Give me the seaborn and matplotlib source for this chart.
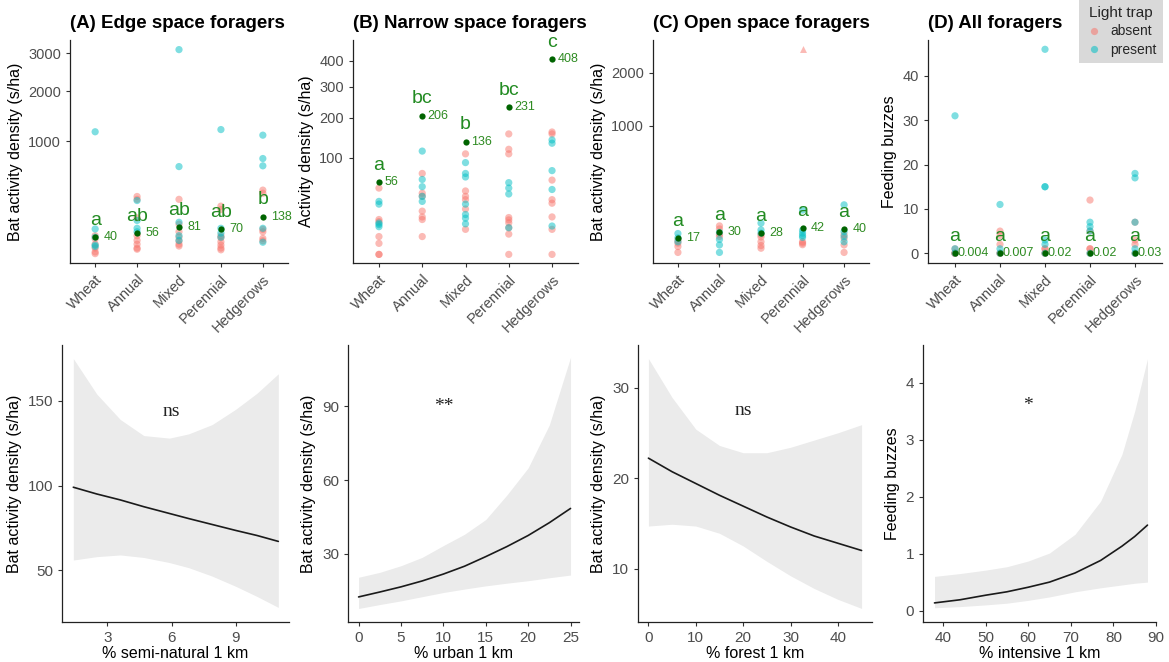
import numpy as np
import pandas as pd
import matplotlib
matplotlib.use("Agg")
import matplotlib.pyplot as plt
import seaborn as sns
from matplotlib.lines import Line2D

habitats = ["Wheat", "Annual", "Mixed", "Perennial", "Hedgerows"]
trap_colors = {"absent": "#F8766D", "present": "#00BFC4"}

# --- top row: site values per habitat (absent / present light trap) ---
edge_absent = [[45, 35, 20, 12, 6, 4], [290, 265, 130, 45, 30, 20, 12, 10],
               [265, 95, 60, 40, 28, 16, 20], [210, 185, 45, 38, 26, 18, 12, 9],
               [350, 320, 70, 60, 36, 29]]
edge_present = [[1160, 72, 40, 18, 15], [255, 115, 75, 60], [3100, 620, 105, 45, 30],
                [1200, 75, 55, 40], [1100, 730, 630, 75, 25]]
edge_means = [40, 56, 81, 70, 138]
edge_letters = ["a", "ab", "ab", "ab", "b"]

narrow_absent = [[47, 13, 11.5, 3.4, 1.3, 0, 0], [70, 40, 36, 20, 15, 13, 3.4],
                 [108, 43, 36, 32, 22, 6.7], [155, 118, 108, 14.5, 12.7, 10.7, 7.6, 4.4, 0],
                 [160, 155, 59, 32, 28, 15, 6.7, 0]]
narrow_present = [[30, 27, 10.5, 9.5, 8.2], [114, 60, 49, 36, 30], [90, 70, 64, 27, 17, 14, 10],
                  [55, 47, 39, 7.6], [140, 132, 75, 45, 8.6]]
narrow_means = [56, 206, 136, 231, 408]
narrow_letters = ["a", "bc", "b", "bc", "c"]

open_absent = [[12, 8, 4, 0.3], [50, 40, 25, 20], [24, 19, 10, 5, 2.5],
               [10, 8, 6], [24, 16, 5.7, 0.3]]
open_present = [[27, 17, 10], [30, 14, 5.7, 0.3], [60, 37, 28],
                [120, 36, 28, 22, 18], [150, 32, 20, 10]]
open_outlier = 2550  # Perennial, absent
open_means = [17, 30, 28, 42, 40]
open_letters = ["a", "a", "a", "a", "a"]

all_absent = [[1, 0, 0, 0, 0], [5, 4, 2, 0, 0], [1, 1, 0, 0],
              [12, 5, 1, 1, 0], [7, 3, 2, 0]]
all_present = [[31, 1, 0], [11, 1, 0], [46, 15, 15, 3, 2, 0],
               [7, 6, 5, 0], [18, 17, 7, 1, 0]]
all_means = [0.004, 0.007, 0.02, 0.02, 0.03]
all_letters = ["a", "a", "a", "a", "a"]

# --- bottom row: model predictions with confidence band ---
semi_x = [1.4, 2.5, 3.6, 4.7, 5.9, 6.8, 7.9, 9.0, 10.0, 11.0]
semi_fit = [99, 95, 91.5, 87.5, 83.5, 80.5, 77, 73.5, 70.5, 67]
semi_hi = [175, 154, 139, 129.5, 128, 130.5, 136, 145, 154.5, 166]
semi_lo = [56, 58, 59, 57.5, 54.5, 51.5, 46.5, 40.5, 34.5, 28]

urban_x = [0, 2.5, 5, 7.5, 10, 12.5, 15, 17.5, 20, 22.5, 25]
urban_fit = [12.5, 14.5, 16.6, 19.0, 21.8, 25.0, 28.9, 33.0, 37.5, 42.7, 48.5]
urban_hi = [20.5, 22.5, 25.2, 28.6, 33.4, 38, 44, 54, 65, 82.5, 110]
urban_lo = [7.8, 9.4, 10.9, 12.6, 14.3, 15.7, 17.0, 18.1, 19.1, 20.3, 21.4]

forest_x = [0, 5, 10, 15, 20, 25, 30, 35, 40, 45]
forest_fit = [22.2, 20.7, 19.4, 18.1, 16.9, 15.7, 14.6, 13.6, 12.8, 12.0]
forest_hi = [33.2, 28.9, 25.4, 23.6, 22.8, 22.8, 23.4, 24.2, 25.0, 25.9]
forest_lo = [14.7, 14.9, 14.7, 13.9, 12.5, 10.8, 9.2, 7.8, 6.6, 5.6]

intens_x = [38, 44, 50, 55, 60, 65, 71, 77, 82, 85, 88]
intens_fit = [0.135, 0.19, 0.27, 0.33, 0.41, 0.5, 0.66, 0.88, 1.13, 1.3, 1.5]
intens_hi = [0.6, 0.65, 0.71, 0.77, 0.87, 1.01, 1.34, 1.92, 2.74, 3.5, 4.42]
intens_lo = [0.05, 0.07, 0.1, 0.13, 0.18, 0.24, 0.33, 0.4, 0.45, 0.48, 0.5]


def to_frame(absent, present):
    rows = []
    for h, a, p in zip(habitats, absent, present):
        rows += [(h, v, "absent") for v in a]
        rows += [(h, v, "present") for v in p]
    return pd.DataFrame(rows, columns=["habitat", "value", "trap"])


def sqrt_fwd(v):
    return np.sign(v) * np.sqrt(np.abs(v))


def sqrt_inv(v):
    return np.sign(v) * v ** 2


sns.set_style("ticks")
plt.rcParams["font.family"] = ["Liberation Sans", "DejaVu Sans"]
plt.rcParams["axes.edgecolor"] = "#222222"
plt.rcParams["axes.linewidth"] = 0.9
plt.rcParams["xtick.color"] = "#333333"
plt.rcParams["ytick.color"] = "#333333"
plt.rcParams["xtick.labelcolor"] = "#4D4D4D"
plt.rcParams["ytick.labelcolor"] = "#4D4D4D"

fig = plt.figure(figsize=(11.69, 6.62), dpi=100)
W, H = 1169, 662


def add_ax(left, right, top, bottom):
    return fig.add_axes([left / W, 1 - bottom / H, (right - left) / W, (bottom - top) / H])


top_boxes = [(70, 288), (353, 578), (653, 869), (928, 1162)]
bot_boxes = [(62, 289), (348, 579), (638, 872), (923, 1156)]

top_panels = [
    ("(A) Edge space foragers", "Bat activity density (s/ha)", edge_absent, edge_present,
     edge_means, edge_letters, [str(m) for m in edge_means], True, (-0.22, 3388), [1000, 2000, 3000], 6),
    ("(B) Narrow space foragers", "Activity density (s/ha)", narrow_absent, narrow_present,
     narrow_means, narrow_letters, [str(m) for m in narrow_means], True, (-0.79, 491), [100, 200, 300, 400], 4),
    ("(C) Open space foragers", "Bat activity density (s/ha)", open_absent, open_present,
     open_means, open_letters, [str(m) for m in open_means], True, (-4.2, 2783), [1000, 2000], 6),
    ("(D) All foragers", "Feeding buzzes", all_absent, all_present,
     all_means, all_letters, ["0.004", "0.007", "0.02", "0.02", "0.03"], False, (-2.2, 48.1), [0, 10, 20, 30, 40], 1.5),
]

for (l, r), (title, ylab, absent, present, means, letters, mlabels, use_sqrt, ylim, yticks, dx) in zip(top_boxes, top_panels):
    ax = add_ax(l, r, 40, 263)
    df = to_frame(absent, present)
    sns.stripplot(data=df, x="habitat", y="value", hue="trap", order=habitats,
                  hue_order=["absent", "present"], palette=trap_colors, jitter=False,
                  size=5.2, alpha=0.5, linewidth=0, ax=ax, legend=False)
    if title.startswith("(C)"):
        sns.stripplot(x=["Perennial"], y=[open_outlier], order=habitats, marker="^",
                      color=trap_colors["absent"], size=5, alpha=0.5, linewidth=0, jitter=False, ax=ax)
    sns.stripplot(x=habitats, y=means, order=habitats, color="#006400", size=4.5,
                  jitter=False, linewidth=0, ax=ax, zorder=5)
    for i, (m, lt, ml) in enumerate(zip(means, letters, mlabels)):
        ax.annotate(ml, (i, m), xytext=(dx, 0), textcoords="offset points",
                    va="center", ha="left", fontsize=9, color="#2E8B22")
        ax.annotate(lt, (i, m), xytext=(0, 12), textcoords="offset points",
                    va="center", ha="center", fontsize=14, color="#228B22")
    if use_sqrt:
        ax.set_yscale("function", functions=(sqrt_fwd, sqrt_inv))
    ax.set_ylim(*ylim)
    ax.set_yticks(yticks)
    ax.set_yticklabels([str(t) for t in yticks])
    ax.set_xlim(-0.6, 4.6)
    ax.set_xlabel("")
    ax.set_ylabel(ylab, fontsize=11.5, color="black")
    ax.set_title(title, loc="left", fontweight="bold", fontsize=13.5, pad=9, color="black")
    ax.tick_params(labelsize=10.5, length=3)
    plt.setp(ax.get_xticklabels(), rotation=45, ha="right", rotation_mode="anchor")
    sns.despine(ax=ax)

bot_panels = [
    (semi_x, semi_fit, semi_lo, semi_hi, "% semi-natural 1 km", "Bat activity density (s/ha)",
     (0.87, 11.5), (19.4, 183), [3, 6, 9], [50, 100, 150], "ns", (6, 144)),
    (urban_x, urban_fit, urban_lo, urban_hi, "% urban 1 km", "Bat activity density (s/ha)",
     (-1.25, 26), (2.3, 115), [0, 5, 10, 15, 20, 25], [30, 60, 90], "**", (10, 90)),
    (forest_x, forest_fit, forest_lo, forest_hi, "% forest 1 km", "Bat activity density (s/ha)",
     (-2.2, 47.2), (4.1, 34.7), [0, 10, 20, 30, 40], [10, 20, 30], "ns", (20, 27.5)),
    (intens_x, intens_fit, intens_lo, intens_hi, "% intensive 1 km", "Feeding buzzes",
     (35.3, 90), (-0.2, 4.66), [40, 50, 60, 70, 80, 90], [0, 1, 2, 3, 4], "*", (60, 3.6)),
]

for (l, r), (x, fit, lo, hi, xlab, ylab, xlim, ylim, xt, yt, sig, sig_xy) in zip(bot_boxes, bot_panels):
    ax = add_ax(l, r, 345, 622)
    ax.fill_between(x, lo, hi, color="#EBEBEB", linewidth=0)
    sns.lineplot(x=x, y=fit, color="#1a1a1a", linewidth=1.2, ax=ax)
    ax.text(sig_xy[0], sig_xy[1], sig, ha="center", va="center", fontsize=14,
            family=["Liberation Serif", "DejaVu Serif"], color="#222222")
    ax.set_xlim(*xlim)
    ax.set_ylim(*ylim)
    ax.set_xticks(xt)
    ax.set_yticks(yt)
    ax.set_xlabel(xlab, fontsize=11.5, color="black", labelpad=1)
    ax.set_ylabel(ylab, fontsize=11.5, color="black")
    ax.tick_params(labelsize=11, length=3)
    sns.despine(ax=ax)

handles = [Line2D([], [], marker="o", linestyle="", markersize=5.2, markeredgewidth=0,
                  color=trap_colors[k], alpha=0.55) for k in ["absent", "present"]]
leg = fig.legend(handles, ["absent", "present"], title="Light trap", loc="upper right",
                 bbox_to_anchor=(1163 / W, 1.0), frameon=True, fancybox=False,
                 facecolor="#D9D9D9", edgecolor="none", framealpha=1, fontsize=10,
                 title_fontsize=11, handletextpad=0.6, borderpad=0.45, labelspacing=0.3,
                 handlelength=1.2, borderaxespad=0)

fig.savefig("out.png", dpi=100)
